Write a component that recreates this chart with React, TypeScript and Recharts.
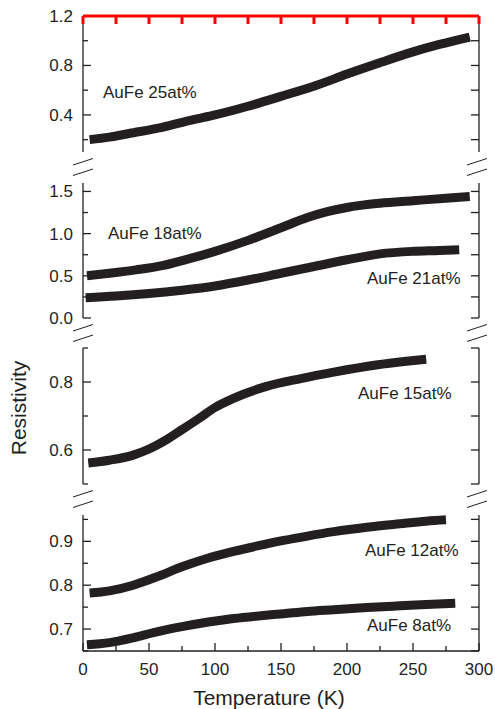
import React from 'react';
import { LineChart, Line, XAxis, YAxis } from 'recharts';

// ---------- data ----------
const temps25 = [5, 20, 35, 60, 83, 100, 125, 150, 177, 200, 227, 250, 270, 293];
const rho25 = [0.2, 0.22, 0.25, 0.3, 0.36, 0.4, 0.47, 0.55, 0.64, 0.73, 0.83, 0.91, 0.97, 1.03];

const temps18 = [3, 20, 40, 60, 80, 100, 125, 150, 170, 185, 200, 225, 250, 275, 293];
const rho18 = [0.5, 0.53, 0.57, 0.62, 0.7, 0.79, 0.92, 1.07, 1.19, 1.26, 1.31, 1.36, 1.39, 1.42, 1.44];

const temps21 = [2, 25, 50, 75, 100, 125, 150, 175, 200, 225, 250, 270, 285];
const rho21 = [0.24, 0.26, 0.29, 0.33, 0.38, 0.45, 0.53, 0.61, 0.69, 0.76, 0.79, 0.8, 0.81];

const temps15 = [4, 20, 38, 50, 63, 75, 88, 100, 114, 139, 165, 190, 222, 245, 260];
const rho15 = [0.562, 0.57, 0.585, 0.603, 0.63, 0.66, 0.693, 0.725, 0.752, 0.787, 0.81, 0.829, 0.85, 0.861, 0.867];

const temps12 = [5, 20, 38, 55, 76, 95, 114, 133, 152, 170, 190, 215, 240, 260, 275];
const rho12 = [0.782, 0.787, 0.8, 0.818, 0.843, 0.862, 0.877, 0.89, 0.902, 0.912, 0.922, 0.932, 0.94, 0.946, 0.949];

const temps8 = [3, 20, 38, 55, 76, 95, 114, 133, 152, 170, 190, 215, 240, 260, 282];
const rho8 = [0.664, 0.669, 0.68, 0.693, 0.706, 0.716, 0.724, 0.73, 0.735, 0.74, 0.744, 0.749, 0.753, 0.756, 0.759];

const tempTicks = [0, 25, 50, 75, 100, 125, 150, 175, 200, 225, 250, 275, 300];
const tempLabels = [0, 50, 100, 150, 200, 250, 300];

const p1Ticks = [0.2, 0.4, 0.6, 0.8, 1.0, 1.2];
const p1Labels = [0.4, 0.8, 1.2];
const p2Ticks = [0, 0.25, 0.5, 0.75, 1.0, 1.25, 1.5];
const p2Labels = [0, 0.5, 1.0, 1.5];
const p3Ticks = [0.5, 0.6, 0.7, 0.8, 0.9];
const p3Labels = [0.6, 0.8];
const p4Ticks = [0.65, 0.7, 0.75, 0.8, 0.85, 0.9, 0.95];
const p4Labels = [0.7, 0.8, 0.9];

const build = (t: number[], r: number[]) => t.map((T, i) => ({ T, r: r[i] }));

// ---------- style ----------
const INK = '#231f20';
const FONT = '"Liberation Sans", Arial, sans-serif';
const W = 495;
const H = 709;
const LEFT = 83;
const RIGHT = 479;
const T_MAX = 300;
const FRAME_TOP = 16;
const BOTTOM_AXIS_H = 1;

const leftTick = (labels: number[]) => (props: any) => {
  const { x, y, payload } = props;
  const major = labels.some((v) => Math.abs(v - payload.value) < 1e-9);
  return (
    <g>
      <line x1={x} y1={y} x2={x + (major ? 8 : 5)} y2={y} stroke={INK} strokeWidth={1.3} />
      {major && (
        <text x={x - 10} y={y} dy="0.35em" textAnchor="end" fontFamily={FONT} fontSize={17} fill={INK}>
          {payload.value.toFixed(1)}
        </text>
      )}
    </g>
  );
};

const rightTick = (props: any) => {
  const { x, y } = props;
  return <line x1={x} y1={y} x2={x - 8} y2={y} stroke={INK} strokeWidth={1.3} />;
};

const bottomTick = (props: any) => {
  const { x, y, payload } = props;
  const major = tempLabels.includes(payload.value);
  return (
    <g>
      <line x1={x} y1={y} x2={x} y2={y - (major ? 8 : 5)} stroke={INK} strokeWidth={1.3} />
      {major && (
        <text x={x} y={y + 18} dy="0.35em" textAnchor="middle" fontFamily={FONT} fontSize={17} fill={INK}>
          {payload.value}
        </text>
      )}
    </g>
  );
};

type Series = { t: number[]; r: number[] };

type PanelProps = {
  boxTop: number;
  boxHeight: number;
  top: number;
  bottom: number;
  domain: [number, number];
  ticks: number[];
  labels: number[];
  series: Series[];
  showX: boolean;
};

function Panel({ boxTop, boxHeight, top, bottom, domain, ticks, labels, series, showX }: PanelProps) {
  const plotTop = top - boxTop;
  const plotBottom = bottom - boxTop;
  const mBottom = showX ? boxHeight - plotBottom - BOTTOM_AXIS_H : boxHeight - plotBottom;
  return (
    <div style={{ position: 'absolute', left: 0, top: boxTop, width: W, height: boxHeight }}>
      <LineChart width={W} height={boxHeight} margin={{ top: plotTop, bottom: mBottom, left: 0, right: 0 }}>
        <XAxis
          xAxisId="x"
          type="number"
          dataKey="T"
          domain={[0, T_MAX]}
          ticks={tempTicks}
          interval={0}
          orientation="bottom"
          hide={!showX}
          height={BOTTOM_AXIS_H}
          tickSize={0}
          tickMargin={0}
          axisLine={{ stroke: INK, strokeWidth: 1.3 }}
          tickLine={false}
          tick={bottomTick}
        />
        <YAxis
          yAxisId="l"
          orientation="left"
          type="number"
          width={LEFT}
          domain={domain}
          ticks={ticks}
          interval={0}
          allowDataOverflow
          tickSize={0}
          tickMargin={0}
          axisLine={{ stroke: INK, strokeWidth: 1.3 }}
          tickLine={false}
          tick={leftTick(labels)}
        />
        <YAxis
          yAxisId="r"
          orientation="right"
          type="number"
          width={W - RIGHT}
          domain={domain}
          ticks={ticks}
          interval={0}
          allowDataOverflow
          tickSize={0}
          tickMargin={0}
          axisLine={{ stroke: INK, strokeWidth: 1.3 }}
          tickLine={false}
          tick={rightTick}
        />
        {series.map((s, i) => (
          <Line
            key={i}
            xAxisId="x"
            yAxisId="l"
            data={build(s.t, s.r)}
            dataKey="r"
            type="monotone"
            stroke={INK}
            strokeWidth={9}
            dot={false}
            activeDot={false}
            isAnimationActive={false}
          />
        ))}
      </LineChart>
    </div>
  );
}

const breakMark = (x: number, yMid: number, key: string) => (
  <g key={key} stroke={INK} strokeWidth={1}>
    <line x1={x} y1={yMid - 2} x2={x + 20} y2={yMid - 8.5} />
    <line x1={x} y1={yMid + 8.5} x2={x + 20} y2={yMid + 2} />
  </g>
);

const frameX = (t: number) => LEFT + (t / T_MAX) * (RIGHT - LEFT);

export default function App() {
  const gaps = [167, 333, 499];
  return (
    <div style={{ position: 'absolute', left: 0, top: 0, width: W, height: H, background: '#fff' }}>
      <Panel boxTop={0} boxHeight={160} top={FRAME_TOP} bottom={152} domain={[0.1, 1.2]} ticks={p1Ticks}
        labels={p1Labels} series={[{ t: temps25, r: rho25 }]} showX={false} />
      <Panel boxTop={160} boxHeight={170} top={183} bottom={318} domain={[0, 1.6]} ticks={p2Ticks}
        labels={p2Labels} series={[{ t: temps18, r: rho18 }, { t: temps21, r: rho21 }]} showX={false} />
      <Panel boxTop={330} boxHeight={162} top={348} bottom={484} domain={[0.5, 0.9]} ticks={p3Ticks}
        labels={p3Labels} series={[{ t: temps15, r: rho15 }]} showX={false} />
      <Panel boxTop={492} boxHeight={217} top={515} bottom={651} domain={[0.65, 0.96]} ticks={p4Ticks}
        labels={p4Labels} series={[{ t: temps12, r: rho12 }, { t: temps8, r: rho8 }]} showX={true} />
      <svg width={W} height={H} viewBox={`0 0 ${W} ${H}`}
        style={{ position: 'absolute', left: 0, top: 0, pointerEvents: 'none', zIndex: 5 }}>
        <path
          d={`M${LEFT},${FRAME_TOP} L${RIGHT},${FRAME_TOP}`}
          stroke="#ff0000"
          strokeWidth={3}
          fill="none"
        />
        {tempTicks.map((t) => (
          <path key={'ft' + t} d={`M${frameX(t)},${FRAME_TOP} L${frameX(t)},${FRAME_TOP + 8}`}
            stroke="#ff0000" strokeWidth={3} fill="none" />
        ))}
        {gaps.map((g, i) => breakMark(73, g, 'l' + i))}
        {gaps.map((g, i) => breakMark(467, g, 'r' + i))}
        <g fontFamily={FONT} fontSize={17} fill={INK}>
          <text x={103} y={92} dy="0.35em">AuFe 25at%</text>
          <text x={108} y={233} dy="0.35em">AuFe 18at%</text>
          <text x={367} y={278} dy="0.35em">AuFe 21at%</text>
          <text x={358} y={393} dy="0.35em">AuFe 15at%</text>
          <text x={365} y={550} dy="0.35em">AuFe 12at%</text>
          <text x={367} y={625} dy="0.35em">AuFe 8at%</text>
        </g>
        <text x={269} y={698} dy="0.35em" textAnchor="middle" fontFamily={FONT} fontSize={21} fill={INK}>
          Temperature (K)
        </text>
        <text x={19} y={408} dy="0.35em" textAnchor="middle" fontFamily={FONT} fontSize={21} fill={INK}
          transform="rotate(-90 19 408)">
          Resistivity
        </text>
      </svg>
    </div>
  );
}
